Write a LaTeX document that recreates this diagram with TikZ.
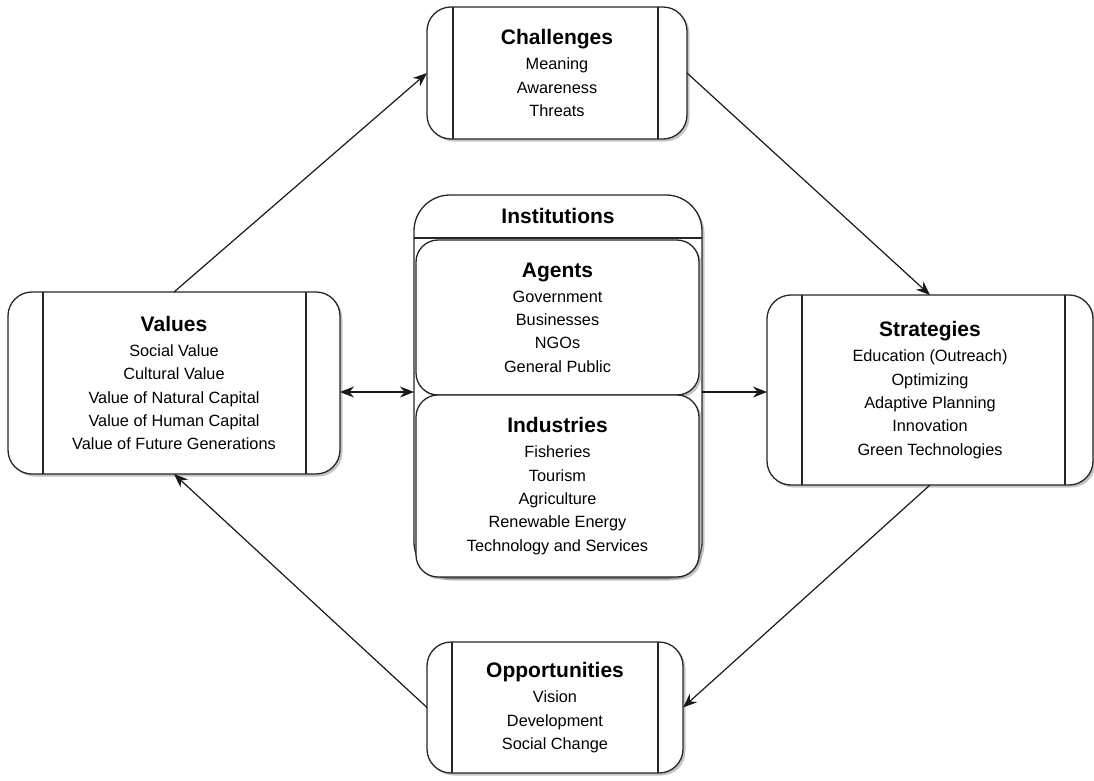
\documentclass[tikz,border=0pt]{standalone}
\usepackage{fontspec}
\setmainfont{Liberation Sans}
\usetikzlibrary{shadows,arrows.meta}
\tikzset{%
  procbox/.style = {shape=rectangle, rounded corners=24pt,%
                    draw=black!85, line width=1.3pt, fill=white,%
                    align=center, inner sep=0pt, outer sep=0pt,%
                    drop shadow={shadow xshift=2.5pt, shadow yshift=-2.5pt,%
                                 fill=black!45, opacity=0.5}},%
  lanebox/.style  = {procbox, rounded corners=36pt},%
  cellbox/.style  = {procbox, rounded corners=22pt},%
  link/.style     = {-{Stealth[length=14pt,width=11pt]}, line width=1.2pt, black!90}%
}
\newcommand{\boxhead}[1]{{\fontsize{21}{24}\selectfont\bfseries #1}}

\begin{document}
\begin{tikzpicture}[x=1pt,y=-1pt,
	every node/.style = {font=\fontsize{16.3}{23.3}\selectfont}]
	\useasboundingbox (0,0) rectangle (1094,780);
	% the four stations of the cycle
	\node[procbox, minimum width=260pt, minimum height=132pt] (chal) at (557,73)
		{\boxhead{Challenges}\\[2pt] Meaning\\ Awareness\\ Threats};
	\node[procbox, minimum width=332pt, minimum height=182pt] (vals) at (174,383)
		{\boxhead{Values}\\[2pt] Social Value\\ Cultural Value\\ Value of Natural Capital\\
		 Value of Human Capital\\ Value of Future Generations};
	\node[procbox, minimum width=326pt, minimum height=190pt] (strat) at (930,390)
		{\boxhead{Strategies}\\[2pt] Education (Outreach)\\ Optimizing\\ Adaptive Planning\\
		 Innovation\\ Green Technologies};
	\node[procbox, minimum width=256pt, minimum height=131pt] (opps) at (555,707.5)
		{\boxhead{Opportunities}\\[2pt] Vision\\ Development\\ Social Change};
	\foreach \n/\l/\r in {chal/26/29, vals/35/34, strat/35/28, opps/25/25} {
		\draw[line width=1.3pt, black!85] ([xshift=\l pt]\n.north west) -- ([xshift=\l pt]\n.south west);
		\draw[line width=1.3pt, black!85] ([xshift=-\r pt]\n.north east) -- ([xshift=-\r pt]\n.south east);
	}
	% institutions lane
	\node[lanebox, minimum width=288pt, minimum height=383pt] (inst) at (558,386.5) {};
	\node (insttitle) at (558,216) {\boxhead{Institutions}};
	\coordinate (lanesep) at (558,238);
	\draw[line width=1.3pt, black!85] (inst.west |- lanesep) -- (inst.east |- lanesep);
	\node[cellbox, minimum width=283pt, minimum height=155pt] (agents) at (557.5,317.5)
		{\boxhead{Agents}\\[2pt] Government\\ Businesses\\ NGOs\\ General Public};
	\node[cellbox, minimum width=283pt, minimum height=182pt] (inds) at (557.5,486)
		{\boxhead{Industries}\\[2pt] Fisheries\\ Tourism\\ Agriculture\\ Renewable Energy\\
		 Technology and Services};
	% connectors
	\coordinate (mid) at (558,392);
	\draw[link] (vals.north) -- (chal.west);
	\draw[link] (chal.east) -- (strat.north);
	\draw[link] (strat.south) -- (opps.east);
	\draw[link] (opps.west) -- (vals.south);
	\draw[link, {Stealth[length=14pt,width=11pt]}-{Stealth[length=14pt,width=11pt]}]
		(vals.east |- mid) -- (inst.west |- mid);
	\draw[link] (inst.east |- mid) -- (strat.west |- mid);
\end{tikzpicture}
\end{document}
